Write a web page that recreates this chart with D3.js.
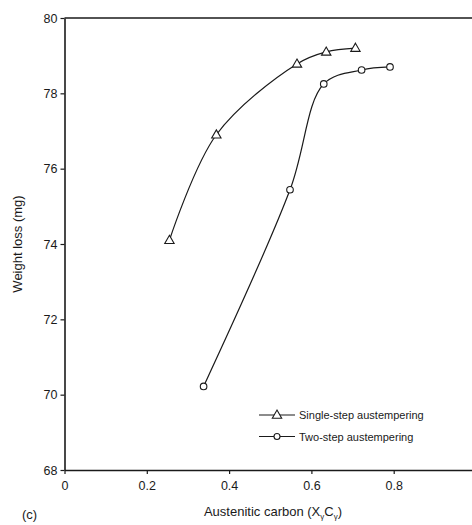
<!DOCTYPE html>
<html>
<head>
<meta charset="utf-8">
<script src="https://cdn.jsdelivr.net/npm/d3@7"></script>
<style>
  html, body { margin: 0; padding: 0; background: #fff; }
  svg { display: block; font-family: "Liberation Sans", Arial, sans-serif; }
</style>
</head>
<body>
<svg id="chart" width="472" height="525"></svg>
<script>
// Austenitic carbon vs weight loss for two austempering routes
const singleX = [0.255, 0.369, 0.565, 0.636, 0.707];
const singleY = [74.1, 76.9, 78.78, 79.1, 79.2];
const twoX = [0.338, 0.548, 0.630, 0.722, 0.791];
const twoY = [70.22, 75.44, 78.25, 78.62, 78.70];
const xTicks = [0, 0.2, 0.4, 0.6, 0.8];
const yTicks = [68, 70, 72, 74, 76, 78, 80];
const seriesNames = ["Single-step austempering", "Two-step austempering"];

const svg = d3.select("#chart");
const x = d3.scaleLinear().domain([0, 1]).range([64.5, 476]);
const y = d3.scaleLinear().domain([68, 80]).range([470, 18]);
const ink = "#1a1a1a";

// frame: top border
svg.append("line")
  .attr("x1", x(0)).attr("x2", 472)
  .attr("y1", y(80)).attr("y2", y(80))
  .attr("stroke", ink).attr("stroke-width", 1.6);

// axes
const xAxis = svg.append("g")
  .attr("transform", `translate(0,${y(68)})`)
  .call(d3.axisBottom(x).tickValues(xTicks).tickSize(4).tickSizeOuter(0)
    .tickFormat(d => d === 0 ? "0" : d3.format(".1f")(d)));
const yAxis = svg.append("g")
  .attr("transform", `translate(${x(0)},0)`)
  .call(d3.axisLeft(y).tickValues(yTicks).tickSize(4).tickSizeOuter(0));

[xAxis, yAxis].forEach(g => {
  g.select(".domain").attr("stroke", ink).attr("stroke-width", 1.6);
  g.selectAll(".tick line").attr("stroke", ink).attr("stroke-width", 1.2);
  g.selectAll(".tick text").attr("fill", ink)
    .style("font-family", "'Liberation Sans', Arial, sans-serif")
    .style("font-size", "12.5px");
});
xAxis.selectAll(".tick text").attr("dy", "1.0em");
yAxis.selectAll(".tick text").attr("x", -7);

// axis titles
const xTitle = svg.append("text")
  .attr("x", 273).attr("y", 516)
  .attr("text-anchor", "middle")
  .attr("fill", ink).style("font-size", "13px");
xTitle.append("tspan").text("Austenitic carbon (X");
xTitle.append("tspan").attr("dy", 3).style("font-size", "8px").text("γ");
xTitle.append("tspan").attr("dy", -3).text("C");
xTitle.append("tspan").attr("dy", 3).style("font-size", "8px").text("γ");
xTitle.append("tspan").attr("dy", -3).text(")");

svg.append("text")
  .attr("transform", "translate(22,244) rotate(-90)")
  .attr("text-anchor", "middle")
  .attr("fill", ink).style("font-size", "13px")
  .text("Weight loss (mg)");

svg.append("text")
  .attr("x", 22).attr("y", 519)
  .attr("fill", ink).style("font-size", "13px")
  .text("(c)");

// curves
const line = d3.line()
  .x(d => x(d[0])).y(d => y(d[1]))
  .curve(d3.curveCatmullRom.alpha(0.5));

const single = singleX.map((v, i) => [v, singleY[i]]);
const two = twoX.map((v, i) => [v, twoY[i]]);

svg.append("path").datum(single).attr("d", line)
  .attr("fill", "none").attr("stroke", ink).attr("stroke-width", 1.2);
svg.append("path").datum(two).attr("d", line)
  .attr("fill", "none").attr("stroke", ink).attr("stroke-width", 1.2);

const tri = d3.symbol().type(d3.symbolTriangle).size(38);

svg.append("g").selectAll("path").data(single).join("path")
  .attr("d", tri)
  .attr("transform", d => `translate(${x(d[0])},${y(d[1]) + 0.5})`)
  .attr("fill", "#fff").attr("stroke", ink).attr("stroke-width", 1.1);

svg.append("g").selectAll("circle").data(two).join("circle")
  .attr("cx", d => x(d[0])).attr("cy", d => y(d[1])).attr("r", 3.3)
  .attr("fill", "#fff").attr("stroke", ink).attr("stroke-width", 1.1);

// legend
const legend = svg.append("g");
seriesNames.forEach((name, i) => {
  const ly = 415 + i * 21.5;
  legend.append("line")
    .attr("x1", 259).attr("x2", 295).attr("y1", ly).attr("y2", ly)
    .attr("stroke", ink).attr("stroke-width", 1.1);
  if (i === 0) {
    legend.append("path").attr("d", tri)
      .attr("transform", `translate(277,${ly + 0.5})`)
      .attr("fill", "#fff").attr("stroke", ink).attr("stroke-width", 1.1);
  } else {
    legend.append("circle").attr("cx", 277).attr("cy", ly).attr("r", 3)
      .attr("fill", "#fff").attr("stroke", ink).attr("stroke-width", 1.1);
  }
  legend.append("text")
    .attr("x", 299).attr("y", ly + 4)
    .attr("fill", ink).style("font-size", "11px")
    .text(name);
});
</script>
</body>
</html>
